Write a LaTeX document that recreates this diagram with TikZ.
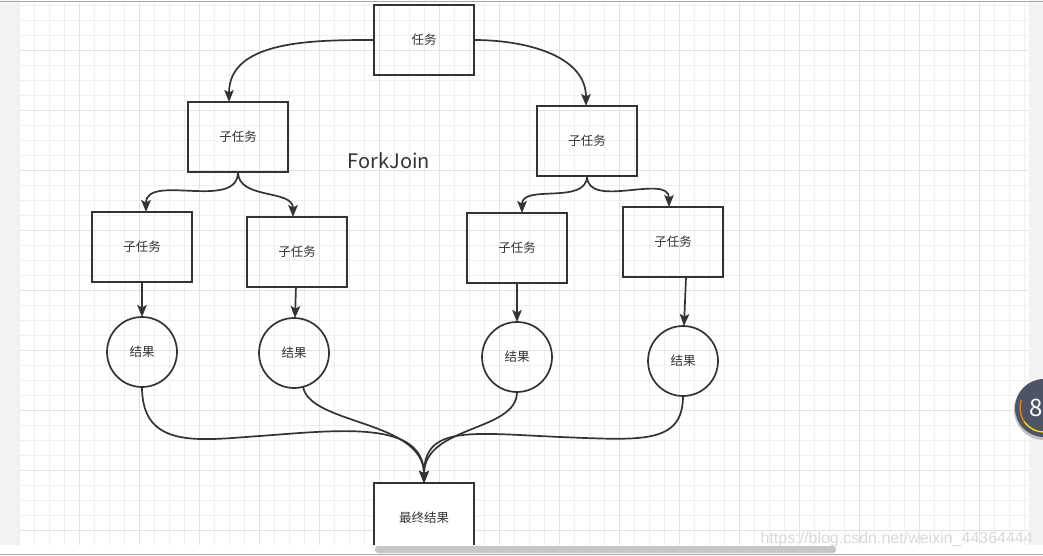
\documentclass[tikz,border=0pt]{standalone}
\usepackage{fontspec}
\setmainfont{Noto Sans CJK SC}
\newfontfamily\markfont{Liberation Sans}
\usepackage{tikz}
\definecolor{ink}{HTML}{333333}
\definecolor{minorgrid}{HTML}{EFEFEF}
\definecolor{majorgrid}{HTML}{E2E2E2}
\definecolor{sidegray}{HTML}{F2F2F2}
\definecolor{badgefill}{HTML}{4E5466}
\tikzset{task node/.style={rectangle,draw=ink,line width=1.7pt,minimum width=100pt,minimum height=70pt,inner sep=0pt,outer sep=0pt,text=ink,font=\fontsize{12.5}{14}\selectfont},
result node/.style={circle,draw=ink,line width=1.7pt,minimum size=70pt,inner sep=0pt,outer sep=0pt,text=ink,font=\fontsize{12.5}{14}\selectfont},
flow/.style={draw=ink,line width=1.7pt,-{Stealth[length=12pt,width=9.5pt,inset=2.5pt]}},
}
\usetikzlibrary{positioning,arrows.meta}

\begin{document}
\begin{tikzpicture}[x=1pt,y=-1pt]
			\useasboundingbox (0,0) rectangle (1043,556);
			%% background
			\fill[white] (0,0) rectangle (1043,556);
			\fill[sidegray] (0,0) rectangle (19,545);
			\fill[sidegray] (1029,0) rectangle (1043,545);
			\foreach \x in {19,34,...,1024} \draw[minorgrid,line width=0.8pt] (\x,3) -- (\x,545);
			\foreach \y in {5,20,...,545} \draw[minorgrid,line width=0.8pt] (19,\y) -- (1029,\y);
			\foreach \x in {79,139,...,979} \draw[majorgrid,line width=0.8pt] (\x,3) -- (\x,545);
			\foreach \y in {50,110,...,530} \draw[majorgrid,line width=0.8pt] (19,\y) -- (1029,\y);
			\draw[gray!70,line width=1pt] (0,1.5) -- (1043,1.5);
			
			%%
			\node[task node] (1) at (424,40) {任务};
			\node[task node] (2) [below left = 27pt and 86pt of 1] {子任务};
			\node[task node] (3) [below right = 31pt and 63pt of 1] {子任务};
			\node[task node] (4) [below = 40pt of 2, xshift=-96pt] {子任务};
			\node[task node] (5) [below = 45pt of 2, xshift=59pt] {子任务};
			\node[task node] (6) [below = 37pt of 3, xshift=-70pt] {子任务};
			\node[task node] (7) [below = 31pt of 3, xshift=86pt] {子任务};
			\node[result node] (8) [below = 35pt of 4] {结果};
			\node[result node] (9) [below = 31pt of 5, xshift=-3pt] {结果};
			\node[result node] (10) [below = 39pt of 6] {结果};
			\node[result node] (11) [below = 49pt of 7, xshift=10pt] {结果};
			\node[task node,fill=white] (12) [below = 408pt of 1] {最终结果};
			\node[text=ink,font=\fontsize{20}{24}\selectfont] (title) at (389,161) {ForkJoin};
			
			\path[every edge/.style={flow}]
			(1) edge[out=180,in=90] ([xshift=-9pt]2.north)
			(1) edge[out=0,in=90] ([xshift=-1pt]3.north)
			(2) edge[out=-90,in=90] ([xshift=4pt]4.north)
			(2) edge[out=-90,in=90] ([xshift=-4pt]5.north)
			(3) edge[out=-90,in=90] ([xshift=5pt]6.north)
			(3) edge[out=-90,in=90] ([xshift=-4pt]7.north)
			(4) edge (8)
			(5) edge (9)
			(6) edge (10)
			([xshift=13pt]7.south) edge ([xshift=1pt]11.north)
			;
			\draw[flow] (8) .. controls (142,450) and (200,440) .. (260,436) .. controls (340,430) and (424,420) .. (12.north);
			\draw[flow] (9.-75) .. controls (310,425) and (424,420) .. (12.north);
			\draw[flow] (10) .. controls (517,432) and (424,425) .. (12.north);
			\draw[flow] (11) .. controls (683,445) and (640,440) .. (560,437) .. controls (470,433) and (424,425) .. (12.north);
			
			%% window parts
			\fill[white] (0,545) rectangle (1043,556);
			\fill[gray!45] (375,546) [rounded corners=3pt] rectangle (836,553);
			\draw[gray!70,line width=1pt] (0,554.5) -- (1043,554.5);
			\node[anchor=south east,inner sep=0pt,text=gray!30,font=\markfont\fontsize{16}{18}\selectfont] (mark) at (1033,547) {https://blog.csdn.net/weixin\_44364444};
			\fill[black!25] (1044,410) circle (30pt);
			\fill[badgefill] (1044,408) circle (29pt);
			\draw[orange,line width=1.3pt] ([shift={(160:24pt)}]1044,408) arc[start angle=160,end angle=215,radius=24pt];
			\draw[yellow!85!orange,line width=1.3pt] ([shift={(215:24pt)}]1044,408) arc[start angle=215,end angle=290,radius=24pt];
			\node[text=white,font=\fontsize{24}{26}\selectfont] (badge) at (1036,408) {8};
			\end{tikzpicture}
\end{document}
